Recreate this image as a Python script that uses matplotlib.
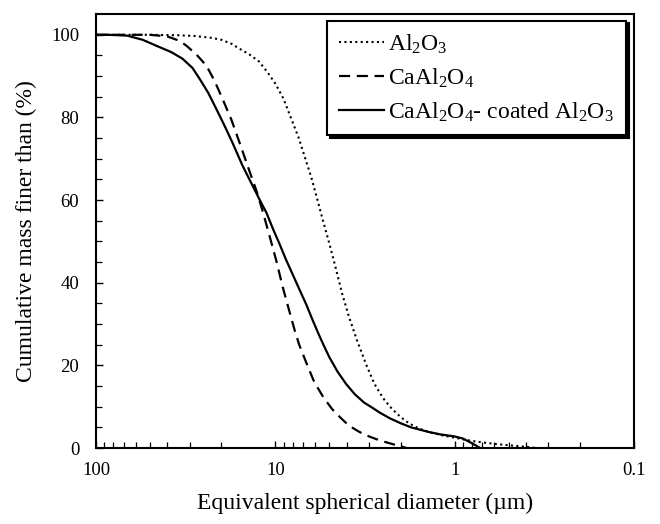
import numpy as np
import matplotlib
matplotlib.use("Agg")
import matplotlib.pyplot as plt
from matplotlib.ticker import LogLocator, FixedLocator, NullFormatter

# --- Style settings (Times-like, as in the scanned figure) ---
plt.rcParams.update({
    "font.family": "serif",
    "font.serif": ["Liberation Serif", "DejaVu Serif"],
    "mathtext.fontset": "custom",
    "mathtext.rm": "Liberation Serif",
    "mathtext.default": "regular",
    "axes.linewidth": 1.5,
    "xtick.direction": "in",
    "ytick.direction": "in",
})

# --- Data ---
# Al2O3 (dotted)
d_al2o3 = [100, 50, 35, 28, 23, 20, 17.5, 15.8, 14, 12.3, 11, 10, 9.0, 8.2, 7.4,
           6.8, 6.3, 5.9, 5.5, 5.0, 4.6, 4.25, 3.9, 3.5, 3.1, 2.8, 2.5, 2.24, 2.0,
           1.8, 1.58, 1.35, 1.15, 1.0, 0.85, 0.74, 0.6, 0.48, 0.4, 0.35]
y_al2o3 = [100, 100, 99.9, 99.7, 99.3, 98.8, 97.8, 96.6, 95.3, 93.5, 90.8, 88.2,
           84.5, 80, 75, 70, 65.5, 61, 56, 49.5, 43.5, 37.5, 32, 26, 20, 15.5, 12,
           9.5, 7.5, 6, 4.7, 3.7, 3.0, 2.5, 1.9, 1.5, 1.0, 0.6, 0.3, 0]

# CaAl2O4 (dashed)
d_caal = [100, 50, 40, 34, 31.2, 27.5, 24.2, 21.8, 19.7, 17.6, 15.8, 14.2, 12.8,
          11.8, 10.8, 9.9, 9.1, 8.4, 7.8, 7.36, 6.7, 6.07, 5.4, 4.82, 4.3, 3.88,
          3.4, 3.0, 2.6, 2.24, 2.0, 1.85]
y_caal = [100, 100, 99.6, 98.5, 97.3, 95.2, 92.5, 88.8, 84.5, 79.5, 73.8, 68,
          62.5, 57.5, 51.5, 45.5, 39, 33.5, 28.5, 25, 20.5, 16, 12.3, 9.4, 7.2,
          5.4, 3.9, 2.8, 1.8, 1.0, 0.4, 0]

# CaAl2O4-coated Al2O3 (solid)
d_coat = [100, 85, 67, 55, 45.8, 38, 32.9, 29, 26.4, 23.7, 21.3, 19.2, 17.3, 15.3,
          13.4, 12.2, 11.2, 10.3, 9.5, 8.7, 8.0, 7.36, 6.7, 6.2, 5.7, 5.3, 5.0,
          4.5, 4.03, 3.6, 3.2, 2.89, 2.6, 2.3, 2.0, 1.75, 1.58, 1.4, 1.2, 1.0,
          0.9, 0.82, 0.76, 0.72]
y_coat = [100, 100, 99.8, 98.8, 97.3, 95.8, 94.2, 92, 89.3, 86, 82, 78, 73.8, 68.5,
          63.5, 60, 56.9, 53, 49.5, 45.5, 42, 38.5, 34.6, 31, 27.3, 24.3, 22,
          18.5, 15.5, 13, 11, 9.8, 8.5, 7.2, 6.0, 5.0, 4.5, 3.9, 3.3, 2.8,
          2.3, 1.4, 0.6, 0]

labels = [r"Al$_2$O$_3$", r"CaAl$_2$O$_4$", r"CaAl$_2$O$_4$- coated Al$_2$O$_3$"]

fig = plt.figure(figsize=(6.6, 5.24), dpi=100)
ax = fig.add_axes([0.1455, 0.145, 0.815, 0.828])

ax.plot(d_al2o3, y_al2o3, color="k", lw=1.5, linestyle=(0, (1, 1.6)), label=labels[0])
ax.plot(d_caal, y_caal, color="k", lw=1.6, linestyle=(0, (5, 3)), label=labels[1])
ax.plot(d_coat, y_coat, color="k", lw=1.6, linestyle="-", label=labels[2])

# --- Axes ---
ax.set_xscale("log")
ax.set_xlim(100, 0.1)
ax.set_ylim(0, 105)

ax.xaxis.set_major_locator(FixedLocator([100, 10, 1, 0.1]))
ax.set_xticklabels(["100", "10", "1", "0.1"])
ax.xaxis.set_minor_locator(LogLocator(base=10, subs=np.arange(2, 10)))
ax.xaxis.set_minor_formatter(NullFormatter())
ax.set_yticks([0, 20, 40, 60, 80, 100])
ax.set_yticks(np.arange(0, 105, 5), minor=True)

ax.tick_params(axis="both", which="major", length=5, width=1.0, labelsize=13.5)
ax.tick_params(axis="both", which="minor", length=4, width=0.9)
ax.tick_params(axis="x", which="major", pad=10)
ax.tick_params(axis="y", which="major", pad=12)

ax.set_xlabel("Equivalent spherical diameter (\u00b5m)", fontsize=17, labelpad=10)
ax.set_ylabel("Cumulative mass finer than (%)", fontsize=17, labelpad=10)

# --- Legend ---
leg = ax.legend(loc="upper right", bbox_to_anchor=(0.985, 0.985), borderaxespad=0,
                fontsize=17, fancybox=False, edgecolor="k", framealpha=1,
                shadow={"color": "k", "alpha": 1}, handlelength=1.9,
                handletextpad=0.2, labelspacing=0.45, borderpad=0.5)
leg.get_frame().set_linewidth(1.5)

fig.savefig("out.png", dpi=100)
